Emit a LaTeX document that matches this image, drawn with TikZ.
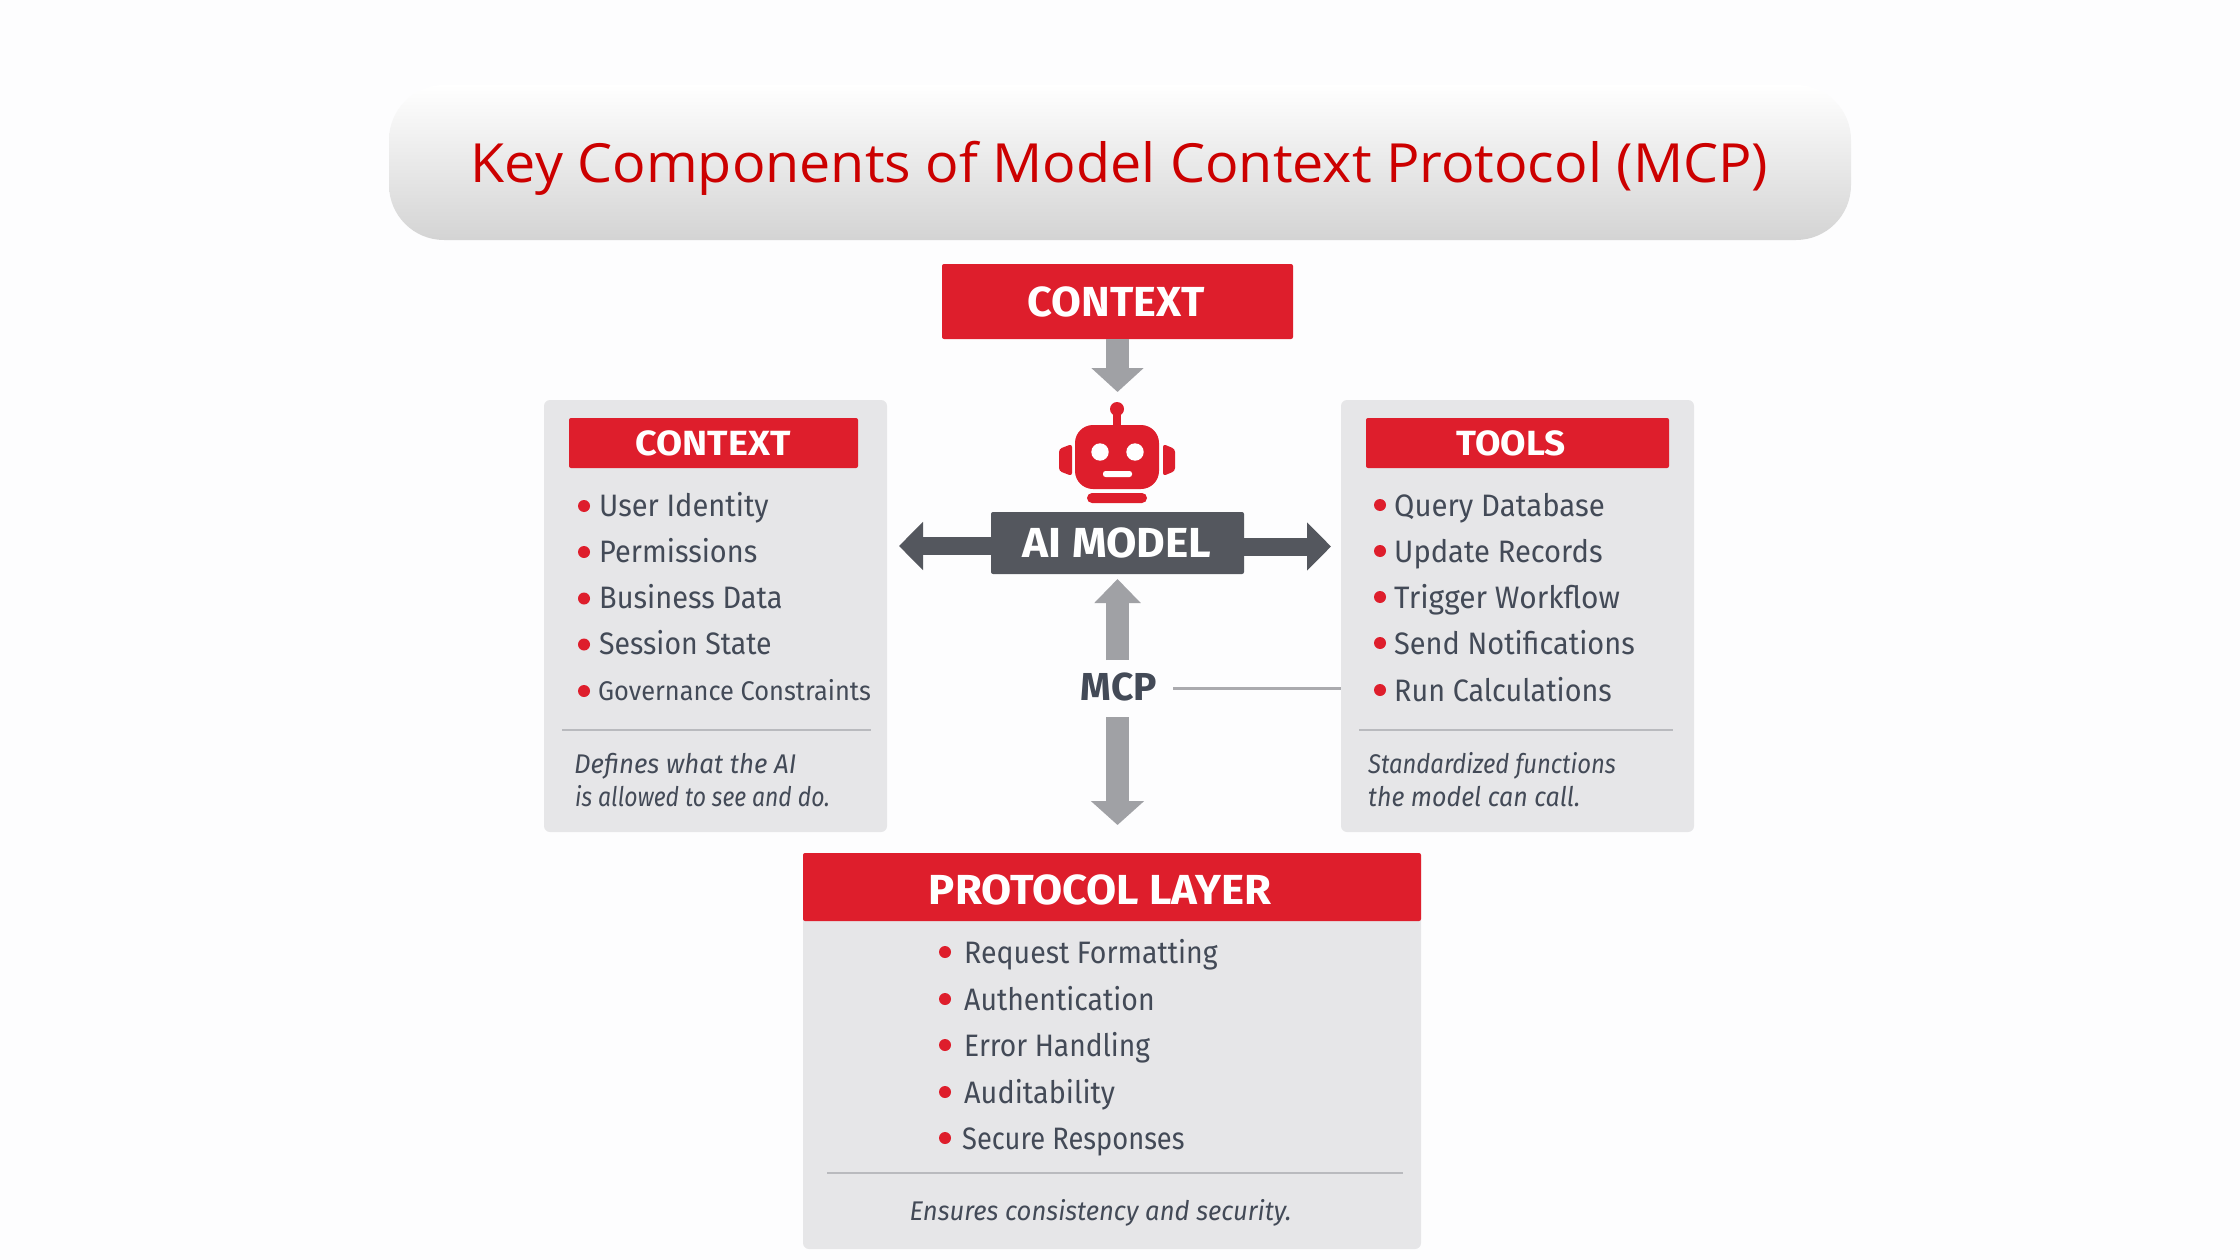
\documentclass[tikz,border=0pt]{standalone}
\usepackage{fontspec}
\usepackage{graphicx}
\usetikzlibrary{arrows.meta}
\setmainfont{Fira Sans}
\newfontfamily\titlefont{Open Sans}
\definecolor{bgc}{HTML}{FDFDFE}
\definecolor{redc}{HTML}{DE1E2C}
\definecolor{titlec}{HTML}{CC0000}
\definecolor{panelc}{HTML}{E6E6E8}
\definecolor{darkc}{HTML}{54575E}
\definecolor{arrowc}{HTML}{A0A1A5}
\definecolor{linec}{HTML}{B9BABE}
\definecolor{textc}{HTML}{434A57}
\newcommand{\fsz}[1]{\fontsize{#1}{#1}\selectfont}
\newcommand{\sx}[2]{\scalebox{#1}[1]{#2}}
\tikzset{
 x=1pt,y=-1pt,
 panelbox/.style={fill=panelc,rounded corners=6pt,inner sep=0pt},
 headbox/.style={fill=redc,text=white,rounded corners=2pt,inner sep=0pt},
 headtext/.style={inner sep=0pt,text=white,font=\fsz{#1}\bfseries},
 item/.style={anchor=base west,inner sep=0pt,text=textc,font=\fsz{31}},
 smallitem/.style={item,font=\fsz{27}},
 note/.style={anchor=base west,inner sep=0pt,text=textc,font=\fsz{27}\itshape},
 bullet/.style={circle,fill=redc,inner sep=0pt,minimum size=12pt},
 rulebar/.style={draw=linec,line width=2pt},
 grayarrow/.style={draw=arrowc,line width=23pt,-{Triangle[width=#1,length=24pt,color=arrowc]}},
 darkarrow/.style={draw=darkc,line width=18pt,-{Triangle[width=47pt,length=24pt,color=darkc]}},
 robotred/.style={fill=redc},
}
\begin{document}
\begin{tikzpicture}
\useasboundingbox (0,0) rectangle (2240,1260);
\fill[bgc] (0,0) rectangle (2240,1260);
% title
\shade[top color=white,bottom color=black!17,rounded corners=55pt] (389,85) rectangle (1851,240);
\node[inner sep=0pt,anchor=base,text=titlec,font=\titlefont\fsz{54}] (title) at (1119.5,183) {\sx{1.03}{Key Components of Model Context Protocol (MCP)}};
% panels
\node[panelbox,minimum width=343pt,minimum height=432pt] (leftpanel) at (715.5,616) {};
\node[panelbox,minimum width=353pt,minimum height=432pt] (rightpanel) at (1517.5,616) {};
\node[panelbox,minimum width=618pt,minimum height=396pt] (bottompanel) at (1112,1051) {};
% top header
\node[headbox,minimum width=351pt,minimum height=75pt] (ctxtop) at (1117.5,301.5) {};
\node[headtext=42] (ctxtoptext) at (1116,302) {\sx{1.03}{CONTEXT}};
% AI model
\node[fill=darkc,rounded corners=2pt,inner sep=0pt,minimum width=253pt,minimum height=62pt] (aimodel) at (1117.5,543) {};
\node[headtext=42] (aitext) at (1117,543) {\sx{1.05}{AI MODEL}};
% robot
\fill[robotred] (1117,409) circle (7pt);
\fill[robotred] (1113,412) rectangle (1121,428);
\fill[robotred,rounded corners=18pt] (1075,425) rectangle (1159,489);
\fill[white] (1100,452) circle (8.7pt) (1135,452) circle (8.7pt);
\fill[white,rounded corners=2.5pt] (1103,471) rectangle (1132,477);
\fill[robotred,rounded corners=3pt] (1072,444) -- (1059,449) -- (1059,471) -- (1072,476) -- cycle;
\fill[robotred,rounded corners=3pt] (1163,444) -- (1175,449) -- (1175,471) -- (1163,476) -- cycle;
\fill[robotred,rounded corners=5pt] (1087,493) rectangle (1147,503);
% free ends
\coordinate (toptip) at (1117.5,392);
\coordinate (lefttip) at (899,546);
\coordinate (righttip) at (1331,546.5);
\coordinate (uptip) at (1117.5,579);
\coordinate (upstart) at (1117.5,660);
\coordinate (downstart) at (1117.5,717);
\coordinate (downtip) at (1117.5,825);
\coordinate (leftstart) at (991,546);
\coordinate (rightstart) at (1244,546.5);
% arrows
\draw[grayarrow=51pt] (ctxtop.south) -- (toptip);
\draw[darkarrow] (leftstart) -- (lefttip);
\draw[darkarrow] (rightstart) -- (righttip);
\draw[grayarrow=45pt] (upstart) -- (uptip);
\draw[grayarrow=52pt] (downstart) -- (downtip);
% MCP
\node[inner sep=0pt,text=textc,font=\fsz{39}\bfseries] (mcp) at (1119,687) {MCP};
\coordinate (mcpline) at (1173,688.5);
\draw[draw=arrowc!90,line width=3pt] (mcpline) -- (rightpanel.west |- mcpline);
% left panel
\node[headbox,minimum width=289pt,minimum height=50pt] (lefthead) at (713.5,443) {};
\node[headtext=35] at (713,443) (lefttitle) {\sx{1.08}{CONTEXT}};
\foreach \n/\y/\t/\s in {a/516/User Identity/.937,b/562/Permissions/.933,c/608.5/Business Data/.934,d/654.5/Session State/.917}{
  \node[bullet] (l\n b) at (584,\y-10) {};
  \node[item] (l\n) at (599,\y) {\sx{\s}{\t}};
}
\node[bullet] (leb) at (584,691) {};
\node[smallitem] (le) at (598,700.5) {\sx{.94}{Governance Constraints}};
\draw[rulebar] (562,730) -- (871,730);
\node[note] (ln1) at (574,773) {\sx{.957}{Defines what the AI}};
\node[note] (ln2) at (575,806) {\sx{.85}{is allowed to see and do.}};
% right panel
\node[headbox,minimum width=303pt,minimum height=50pt] (righthead) at (1517.5,443) {};
\node[headtext=35] at (1511,443) (righttitle) {\sx{1.055}{TOOLS}};
\foreach \n/\y/\t/\s in {a/516/Query Database/.948,b/562/Update Records/.94,c/608/Trigger Workflow/.963,d/654/Send Notifications/.933,e/701/Run Calculations/.927}{
  \node[bullet] (r\n b) at (1380,\y-11) {};
  \node[item] (r\n) at (1394,\y) {\sx{\s}{\t}};
}
\draw[rulebar] (1359,730) -- (1673,730);
\node[note] (rn1) at (1368,773) {\sx{.883}{Standardized functions}};
\node[note] (rn2) at (1368,806) {\sx{.925}{the model can call.}};
% bottom panel
\node[headbox,minimum width=618pt,minimum height=68pt] (bottomhead) at (1112,887) {};
\node[headtext=42] (bottomtitle) at (1100,890) {\sx{1.04}{PROTOCOL LAYER}};
\foreach \n/\y/\t/\xx/\s in {a/963/Request Formatting/964/.92,b/1010/Authentication/964/.917,c/1056/Error Handling/964/.91,d/1103/Auditability/964/.93,e/1149/Secure Responses/962/.88}{
  \node[bullet] (b\n b) at (945,\y-11) {};
  \node[item] (b\n) at (\xx,\y) {\sx{\s}{\t}};
}
\draw[rulebar] (827,1173) -- (1403,1173);
\node[note,anchor=base] (bn) at (1100.5,1220) {\sx{.95}{Ensures consistency and security.}};
\end{tikzpicture}
\end{document}
